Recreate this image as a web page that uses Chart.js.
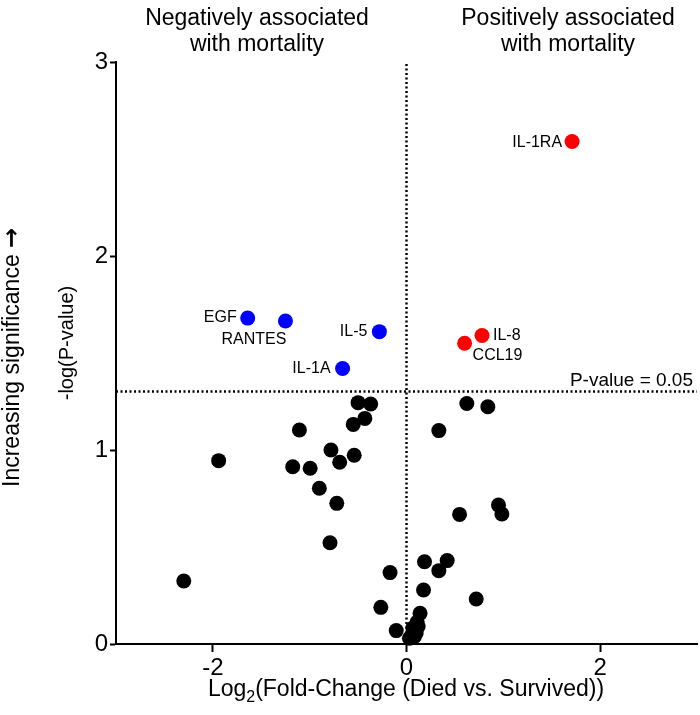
<!DOCTYPE html>
<html>
<head>
<meta charset="utf-8">
<script src="https://cdn.jsdelivr.net/npm/chart.js@4.4.0/dist/chart.umd.min.js"></script>
<style>
  body { margin: 0; background: #fff; }
</style>
</head>
<body>
<canvas id="volcano" width="700" height="715"></canvas>
<script>
// non-significant analytes
const blackX = [-0.50, -0.37, -0.43, -0.55, -1.106, 0.334, -1.94, -0.78, -0.54, -0.69, -1.175, -0.995,
  -0.90, -0.72, -0.79, -2.30, -0.17, -0.265, -0.106, 0.186, 0.176, 0.14, 0.623, 0.84, 0.95, 0.985,
  0.548, 0.42, 0.334, 0.72, 0.11, 0.065, 0.10, 0.03, 0.08, 0.12];
const blackY = [1.244, 1.237, 1.163, 1.132, 1.103, 1.10, 0.945, 1.0, 0.973, 0.937, 0.914, 0.906,
  0.803, 0.725, 0.522, 0.325, 0.368, 0.189, 0.069, 0.424, 0.278, 0.158, 1.24, 1.223, 0.716, 0.67,
  0.668, 0.43, 0.378, 0.232, 0.113, 0.082, 0.057, 0.03, 0.038, 0.09];

// significant, lower in patients who died
const negLabels = ['EGF', 'RANTES', 'IL-5', 'IL-1A'];
const negX = [-1.64, -1.25, -0.28, -0.66];
const negY = [1.68, 1.665, 1.61, 1.42];

// significant, higher in patients who died
const posLabels = ['IL-1RA', 'IL-8', 'CCL19'];
const posX = [1.71, 0.78, 0.60];
const posY = [2.59, 1.59, 1.55];

const xTicks = [-2, 0, 2];
const yTicks = [0, 1, 2, 3];
const cutoff = 1.301; // -log10(0.05)

const FONT = "'Liberation Sans', Arial, Helvetica, sans-serif";

// where each label sits relative to its dot (dx, dy, align)
const labelPlace = {
  'EGF': [-11, 0, 'right'],
  'RANTES': [1, 19, 'right'],
  'IL-5': [-12, 0, 'right'],
  'IL-1A': [-12, 0, 'right'],
  'IL-1RA': [-10, 1, 'right'],
  'IL-8': [11, 0, 'left'],
  'CCL19': [8, 12, 'left']
};

function toPoints(xs, ys) {
  return xs.map((x, i) => ({ x: x, y: ys[i] }));
}

const extras = {
  id: 'extras',
  beforeDatasetsDraw(chart) {
    const { ctx, chartArea, scales } = chart;
    const x0 = scales.x.getPixelForValue(0);
    const yc = scales.y.getPixelForValue(cutoff);
    ctx.save();
    ctx.strokeStyle = '#000';
    ctx.lineWidth = 2.5;
    ctx.setLineDash([2, 2.5]);
    ctx.beginPath();
    ctx.moveTo(x0, chartArea.top + 2);
    ctx.lineTo(x0, chartArea.bottom);
    ctx.moveTo(chartArea.left, yc);
    ctx.lineTo(chartArea.right, yc);
    ctx.stroke();
    ctx.restore();
  },
  afterDatasetsDraw(chart) {
    const { ctx, scales } = chart;
    ctx.save();
    ctx.fillStyle = '#000';
    ctx.textBaseline = 'middle';
    ctx.font = '16px ' + FONT;
    const put = (labels, xs, ys) => {
      labels.forEach((lab, i) => {
        const p = labelPlace[lab];
        ctx.textAlign = p[2];
        ctx.fillText(lab, scales.x.getPixelForValue(xs[i]) + p[0], scales.y.getPixelForValue(ys[i]) + p[1]);
      });
    };
    put(negLabels, negX, negY);
    put(posLabels, posX, posY);

    ctx.font = '19px ' + FONT;
    ctx.textAlign = 'right';
    ctx.textBaseline = 'alphabetic';
    ctx.fillText('P-value = 0.05', 693, scales.y.getPixelForValue(cutoff) - 6);

    // headings
    ctx.font = '23px ' + FONT;
    ctx.textAlign = 'center';
    ctx.textBaseline = 'middle';
    ctx.fillText('Negatively associated', 257, 19);
    ctx.fillText('with mortality', 257, 45);
    ctx.fillText('Positively associated', 568, 19);
    ctx.fillText('with mortality', 568, 45);

    // x title with subscript
    const a = 'Log', b = '2', c = '(Fold-Change (Died vs. Survived))';
    ctx.font = '23px ' + FONT;
    const wa = ctx.measureText(a).width, wc = ctx.measureText(c).width;
    ctx.font = '16px ' + FONT;
    const wb = ctx.measureText(b).width;
    let sx = 406 - (wa + wb + wc) / 2;
    ctx.textAlign = 'left';
    ctx.font = '23px ' + FONT;
    ctx.fillText(a, sx, 690);
    ctx.font = '16px ' + FONT;
    ctx.fillText(b, sx + wa, 698);
    ctx.font = '23px ' + FONT;
    ctx.fillText(c, sx + wa + wb, 690);

    // y titles
    ctx.save();
    ctx.translate(13, 0);
    ctx.rotate(-Math.PI / 2);
    ctx.font = '23px ' + FONT;
    const t1 = 'Increasing significance ';
    ctx.textAlign = 'left';
    ctx.fillText(t1, -487, 0);
    const w1 = ctx.measureText(t1).width;
    ctx.font = "bold 24px 'DejaVu Sans'";
    ctx.fillText('\u2192', -487 + w1, 0);
    ctx.restore();
    ctx.save();
    ctx.translate(67, 343);
    ctx.rotate(-Math.PI / 2);
    ctx.textAlign = 'center';
    ctx.font = '20px ' + FONT;
    ctx.fillText('-log(P-value)', 0, 0);
    ctx.restore();
    ctx.restore();
  }
};

new Chart(document.getElementById('volcano'), {
  type: 'scatter',
  data: {
    datasets: [
      { data: toPoints(blackX, blackY), backgroundColor: '#000', pointRadius: 7.5, pointBorderWidth: 0, clip: false },
      { data: toPoints(negX, negY), backgroundColor: '#0000ff', pointRadius: 7.5, pointBorderWidth: 0, clip: false },
      { data: toPoints(posX, posY), backgroundColor: '#ff0000', pointRadius: 7.5, pointBorderWidth: 0, clip: false }
    ]
  },
  options: {
    responsive: false,
    animation: false,
    devicePixelRatio: 1,
    layout: { autoPadding: false, padding: { top: 62, right: 3, left: 0, bottom: 0 } },
    plugins: { legend: { display: false }, tooltip: { enabled: false } },
    scales: {
      x: {
        type: 'linear', min: -3, max: 3,
        afterBuildTicks: s => { s.ticks = xTicks.map(v => ({ value: v })); },
        afterFit: s => { s.height = 71; },
        ticks: { color: '#000', font: { family: FONT, size: 24 }, padding: 2 },
        grid: { drawOnChartArea: false, drawTicks: true, tickLength: 8, tickColor: '#000', tickWidth: 2 },
        border: { display: true, color: '#000', width: 2 }
      },
      y: {
        type: 'linear', min: 0, max: 3,
        afterBuildTicks: s => { s.ticks = yTicks.map(v => ({ value: v })); },
        afterFit: s => { s.width = 116; },
        ticks: { color: '#000', font: { family: FONT, size: 24 }, padding: 2 },
        grid: { drawOnChartArea: false, drawTicks: true, tickLength: 6, tickColor: '#000', tickWidth: 2 },
        border: { display: true, color: '#000', width: 2 }
      }
    }
  },
  plugins: [extras]
});
</script>
</body>
</html>
